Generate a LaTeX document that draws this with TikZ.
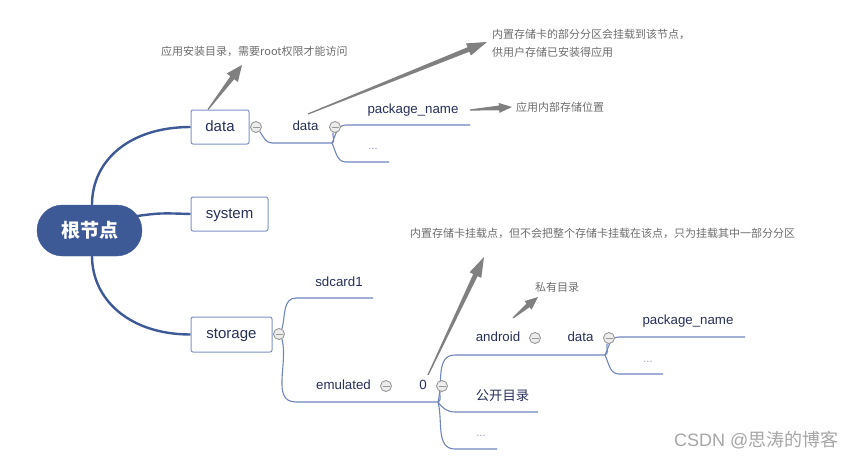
\documentclass[tikz,border=0pt]{standalone}
\usepackage{fontspec}
\setmainfont{Liberation Sans}
\newfontfamily\cjk{Noto Sans CJK SC}
\usetikzlibrary{calc,backgrounds}
\definecolor{mainblue}{HTML}{3D5A97}
\definecolor{subblue}{HTML}{7185BD}
\definecolor{boxline}{HTML}{7F92C6}
\definecolor{navy}{HTML}{27305A}
\definecolor{arrowgray}{HTML}{808080}
\definecolor{notegray}{HTML}{6E6E6E}
\definecolor{dotcol}{HTML}{8E9CC6}
\definecolor{collfill}{HTML}{ECECEC}
\definecolor{collline}{HTML}{999999}
\definecolor{markgray}{HTML}{A6A6A6}
\newcommand\callarrow[4]{%
  \coordinate (hb) at ($(#2)!#3!(#1)$);
  \fill[arrowgray] ($(#1)!0.6pt!90:(#2)$) -- ($(hb)!2.4pt!90:(#2)$) -- ($(hb)!#4!90:(#2)$) -- (#2)
    -- ($(hb)!#4!-90:(#2)$) -- ($(hb)!2.4pt!-90:(#2)$) -- ($(#1)!0.6pt!-90:(#2)$) -- cycle;}
\begin{document}
\begin{tikzpicture}[x=1pt,y=-1pt,
  rootnode/.style={fill=mainblue,draw=mainblue,rounded corners=25.5pt,minimum width=105pt,minimum height=51pt,
    text=white,font=\cjk\bfseries\fontsize{19}{22}\selectfont,inner sep=0pt},
  box/.style={draw=boxline,line width=1pt,rounded corners=2pt,fill=white,text=navy,inner sep=0pt,
    text height=11pt,text depth=3pt,font=\fontsize{15}{18}\selectfont},
  txt/.style={text=navy,inner sep=0pt,text height=10pt,text depth=3pt,font=\fontsize{13.3}{16}\selectfont},
  dots/.style={text=dotcol,inner sep=0pt,font=\fontsize{11}{12}\selectfont},
  note/.style={text=notegray,inner sep=0pt,anchor=west,align=left,font=\cjk\fontsize{11}{18}\selectfont},
  coll/.style={circle,draw=collline,fill=collfill,line width=0.9pt,minimum size=11pt,inner sep=0pt,
    path picture={\draw[collline,line width=0.9pt] ([xshift=-3.5pt]path picture bounding box.center) -- ([xshift=3.5pt]path picture bounding box.center);}},
  mainline/.style={draw=mainblue,line width=2.4pt},
  subline/.style={draw=subblue,line width=1.1pt}]
\useasboundingbox (0,0) rectangle (861,460);
% nodes
\node[rootnode] (root) at (89.5,230.5) {根节点};
\node[box,minimum width=58pt,minimum height=34pt] (data) at (220,127) {data};
\node[box,minimum width=77pt,minimum height=34pt] (system) at (229.5,214) {system};
\node[box,minimum width=81pt,minimum height=35pt] (storage) at (231.5,334.5) {storage};
\node[coll] (c1) at (256,127) {};
\node[txt] (data2) at (305.5,127) {data};
\node[coll] (c2) at (335,127) {};
\node[txt] (pkg1) at (413,110) {package\_name};
\node[dots] (dots1) at (373,149) {...};
\node[coll] (c3) at (279,334) {};
\node[txt] (sdcard) at (339,283) {sdcard1};
\node[txt] (emul) at (343.5,386) {emulated};
\node[coll] (c4) at (386,386) {};
\node[txt] (zero) at (423,386) {0};
\node[coll] (c5) at (442,386) {};
\node[txt] (android) at (498,338) {android};
\node[coll] (c6) at (535,338) {};
\node[txt] (data3) at (580.5,338) {data};
\node[coll] (c7) at (609,338) {};
\node[txt] (pkg2) at (688,321) {package\_name};
\node[dots] (dots3) at (648,362) {...};
\node[txt,font=\cjk\fontsize{13.3}{16}\selectfont] (public) at (502.5,397) {公开目录};
\node[dots] (dots2) at (481,436) {...};
% notes
\node[note] (n1) at (161,51) {应用安装目录，需要root权限才能访问};
\node[note] (n2) at (492,43) {内置存储卡的部分分区会挂载到该节点，\\供用户存储已安装得应用};
\node[note] (n3) at (516,107) {应用内部存储位置};
\node[note] (n4) at (410,233) {内置存储卡挂载点，但不会把整个存储卡挂载在该点，只为挂载其中一部分分区};
\node[note] (n5) at (535,287) {私有目录};
\node[anchor=west,inner sep=0pt,text=markgray,font=\fontsize{18}{20}\selectfont] (mark) at (674,440) {CSDN @{\cjk 思涛的博客}};
% coordinates
\coordinate (u1) at (272,143);
\coordinate (b1) at (332,143);
\coordinate (p1s) at (346,125);
\coordinate (p1e) at (470,125);
\coordinate (d1s) at (346,162);
\coordinate (d1e) at (389,162);
\coordinate (sds) at (296,298);
\coordinate (sde) at (373,298);
\coordinate (ems) at (296,402);
\coordinate (b2) at (438,402);
\coordinate (ans) at (455,355);
\coordinate (b3) at (605,355);
\coordinate (pus) at (455,412);
\coordinate (pue) at (538,412);
\coordinate (d2s) at (455,449);
\coordinate (d2e) at (497,449);
\coordinate (p2s) at (619,337);
\coordinate (p2e) at (745,337);
\coordinate (d3s) at (619,374);
\coordinate (d3e) at (663,374);
% lines
\begin{scope}[on background layer]
\fill[white] (0,0) rectangle (861,460);
\draw[mainline] ($(root.north)+(2.5,0)$) .. controls (92,160) and (130,127) .. (data.west);
\draw[mainline] ($(root.north)+(2.5,0)$) ++(0,51) .. controls (92,300) and (130,334.5) .. (storage.west);
\draw[mainline] (137,216) .. controls (160,213) .. (system.west);
\draw[subline] (c1.-50) to[out=-55,in=180] (u1) -- (b1);
\draw[subline] (c2.-110) to[out=-100,in=20] (b1);
\draw[subline] (b1) to[out=65,in=180] (p1s) -- (p1e);
\draw[subline] (b1) to[out=-65,in=180] (d1s) -- (d1e);
\draw[subline] (c3.60) to[out=75,in=180] (sds) -- (sde);
\draw[subline] (c3.-60) to[out=-75,in=180] (ems) -- (b2);
\draw[subline] (c5.-110) to[out=-100,in=20] (b2);
\draw[subline] (b2) to[out=75,in=180] (ans) -- (b3);
\draw[subline] (b2) to[out=-55,in=180] (pus) -- (pue);
\draw[subline] (b2) to[out=-75,in=180] (d2s) -- (d2e);
\draw[subline] (c7.-110) to[out=-100,in=20] (b3);
\draw[subline] (b3) to[out=65,in=180] (p2s) -- (p2e);
\draw[subline] (b3) to[out=-65,in=180] (d3s) -- (d3e);
\end{scope}
% callouts
\coordinate (t1) at ($(data.north)+(-12,0)$);
\coordinate (h1) at (242,65);
\coordinate (t2) at (308,114);
\coordinate (h2) at (487,42);
\coordinate (t3) at (470,110);
\coordinate (h3) at (512,107);
\coordinate (t4) at (428,375);
\coordinate (h4) at (484,257);
\coordinate (t5) at (513,318);
\coordinate (h5) at (538,297);
\callarrow{t1}{h1}{16pt}{7pt}
\callarrow{t2}{h2}{20pt}{6.5pt}
\callarrow{t3}{h3}{13pt}{5pt}
\callarrow{t4}{h4}{20pt}{6.5pt}
\callarrow{t5}{h5}{13pt}{5.5pt}
\end{tikzpicture}
\end{document}
